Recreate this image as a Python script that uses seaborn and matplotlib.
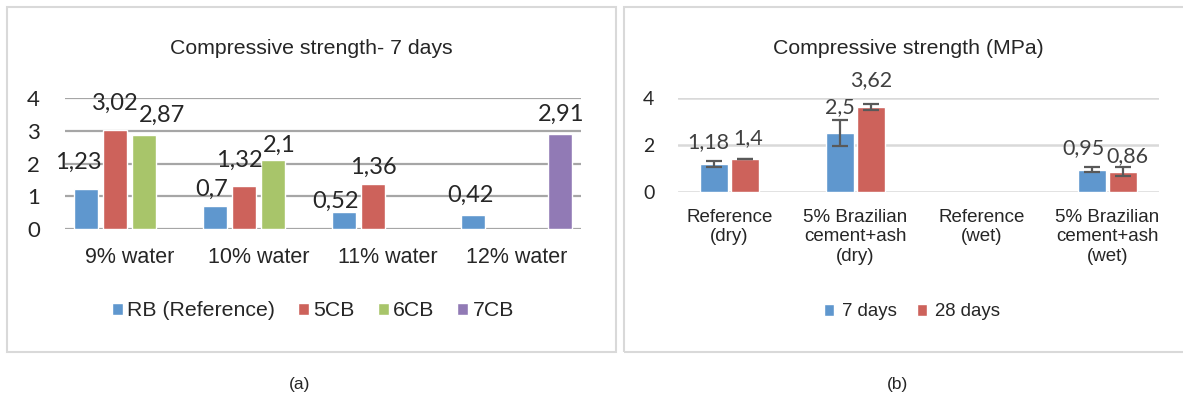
import pandas as pd
import matplotlib.pyplot as plt
import seaborn as sns
import numpy as np
from matplotlib.patches import Rectangle

sns.set_style('white')
plt.rcParams['font.family'] = 'Liberation Sans'

# ---- data: panel (a) ----
water = ['9% water', '10% water', '11% water', '12% water']
mixes = ['RB (Reference)', '5CB', '6CB', '7CB']
rb = [1.23, 0.7, 0.52, 0.42]
cb5 = [3.02, 1.32, 1.36, np.nan]
cb6 = [2.87, 2.1, np.nan, np.nan]
cb7 = [np.nan, np.nan, np.nan, 2.91]
colors_a = ['#5F97CE', '#CD625B', '#A8C56A', '#917AB5']

# ---- data: panel (b) ----
samples = ['Reference\n(dry)', '5% Brazilian\ncement+ash\n(dry)',
           'Reference\n(wet)', '5% Brazilian\ncement+ash\n(wet)']
ages = ['7 days', '28 days']
mean_7d = [1.18, 2.5, np.nan, 0.95]
mean_28d = [1.4, 3.62, np.nan, 0.86]
err_7d = [0.12, 0.55, np.nan, 0.10]
err_28d = [0.01, 0.13, np.nan, 0.20]
colors_b = ['#5F97CE', '#CD625B']

# label nudges (px, like Excel's collision shifting), keyed by series order
nudge_a = {
    'RB (Reference)': [(-8, 7), (-3, -2), (-8, -8), (-3, 1)],
    '5CB': [(0, 8), (-5, 6), (0, -2)],
    '6CB': [(18, 1), (6, -4)],
    '7CB': [(1, 0)],
}
nudge_b = {
    '7 days': [(-5, 19), (0, 13), (-8, 19)],
    '28 days': [(3, 21), (0, 24), (4, 11)],
}

df_a = pd.DataFrame({'water': water * 4,
                     'mix': np.repeat(mixes, 4),
                     'value': rb + cb5 + cb6 + cb7}).dropna()
df_b = pd.DataFrame({'sample': samples * 2,
                     'age': np.repeat(ages, 4),
                     'value': mean_7d + mean_28d,
                     'err': err_7d + err_28d}).dropna()

W, H = 1183, 403
PT = 72 / 100  # points per pixel
fig = plt.figure(figsize=(W / 100, H / 100), dpi=100)

def px_axes(x0, y0, x1, y1):
    return fig.add_axes([x0 / W, 1 - y1 / H, (x1 - x0) / W, (y1 - y0) / H])

def comma(v):
    return f'{v:g}'.replace('.', ',')

# panel boxes
for x0, x1 in [(7, 616), (624, 1190)]:
    fig.add_artist(Rectangle((x0 / W, 1 - 352 / H), (x1 - x0) / W, 345 / H,
                             transform=fig.transFigure, fill=False,
                             edgecolor='#D9D9D9', linewidth=1.5))

# ============ panel (a) ============
ax1 = px_axes(65, 98, 581, 229)
sns.barplot(data=df_a, x='water', y='value', hue='mix', order=water,
            hue_order=mixes, palette=colors_a, width=0.9, gap=0.2,
            errorbar=None, saturation=1, ax=ax1, zorder=3)
for c, mix in zip(ax1.containers, mixes):
    for p, (dx, dy) in zip(c, nudge_a[mix]):
        v = p.get_height()
        ax1.annotate(comma(v), (p.get_x() + p.get_width() / 2, v),
                     xytext=(dx * PT, (19 + dy) * PT), textcoords='offset points',
                     ha='center', va='center', fontsize=17, family='Lato')
ax1.set_ylim(0, 4)
ax1.set_yticks([0, 1, 2, 3, 4])
ax1.yaxis.grid(True, color='#A6A6A6', linewidth=1.6)
ax1.set_axisbelow(True)
sns.despine(ax=ax1, left=True, bottom=True, top=True, right=True)
ax1.tick_params(axis='y', length=0, pad=18, labelsize=16)
ax1.tick_params(axis='x', length=0, pad=13, labelsize=15.5)
for t in ax1.get_yticklabels():
    t.set_family('Lato')
ax1.set_xlabel('')
ax1.set_ylabel('')
ax1.legend(loc='center', bbox_to_anchor=(313 / W, 1 - 311 / H),
           bbox_transform=fig.transFigure, ncol=4, frameon=False,
           fontsize=15.3, handlelength=0.52, handleheight=0.52,
           handletextpad=0.2, columnspacing=1.08)
fig.text(311 / W, 1 - 48 / H, 'Compressive strength- 7 days',
         ha='center', va='center', fontsize=15.3)

# ============ panel (b) ============
ax2 = px_axes(678, 98, 1159, 192)
sns.barplot(data=df_b, x='sample', y='value', hue='age', order=samples,
            hue_order=ages, palette=colors_b, width=0.5, gap=0.12,
            errorbar=None, saturation=1, ax=ax2, zorder=3)
for c, age in zip(ax2.containers, ages):
    sub = df_b[df_b['age'] == age]
    xs = [p.get_x() + p.get_width() / 2 for p in c]
    ax2.errorbar(xs, sub['value'], yerr=sub['err'], fmt='none',
                 ecolor='#595959', elinewidth=1.6, capsize=5.5,
                 capthick=1.6, zorder=4)
    for x, v, e, (dx, dy) in zip(xs, sub['value'], sub['err'], nudge_b[age]):
        ax2.annotate(comma(v), (x, v + e), xytext=(dx * PT, dy * PT),
                     textcoords='offset points', ha='center', va='center',
                     fontsize=15.5, family='Lato', color='#404040')
ax2.set_ylim(0, 4)
ax2.set_yticks([0, 2, 4])
ax2.yaxis.grid(True, color='#D9D9D9', linewidth=1.8)
ax2.set_axisbelow(True)
sns.despine(ax=ax2, left=True, bottom=True, top=True, right=True)
ax2.tick_params(axis='y', length=0, pad=17, labelsize=14)
ax2.tick_params(axis='x', length=0, pad=12, labelsize=13.5)
for t in ax2.get_yticklabels():
    t.set_family('Lato')
ax2.set_xlabel('')
ax2.set_ylabel('')
ax2.legend(loc='center', bbox_to_anchor=(912 / W, 1 - 312 / H),
           bbox_transform=fig.transFigure, ncol=2, frameon=False,
           fontsize=13.4, handlelength=0.55, handleheight=0.55,
           handletextpad=0.43, columnspacing=1.08)
fig.text(908 / W, 1 - 48 / H, 'Compressive strength (MPa)',
         ha='center', va='center', fontsize=15.3)

fig.text(300 / W, 1 - 385 / H, '(a)', ha='center', va='center', fontsize=12.5)
fig.text(897 / W, 1 - 385 / H, '(b)', ha='center', va='center', fontsize=12.5)

fig.savefig('out.png', dpi=100, facecolor='white')
